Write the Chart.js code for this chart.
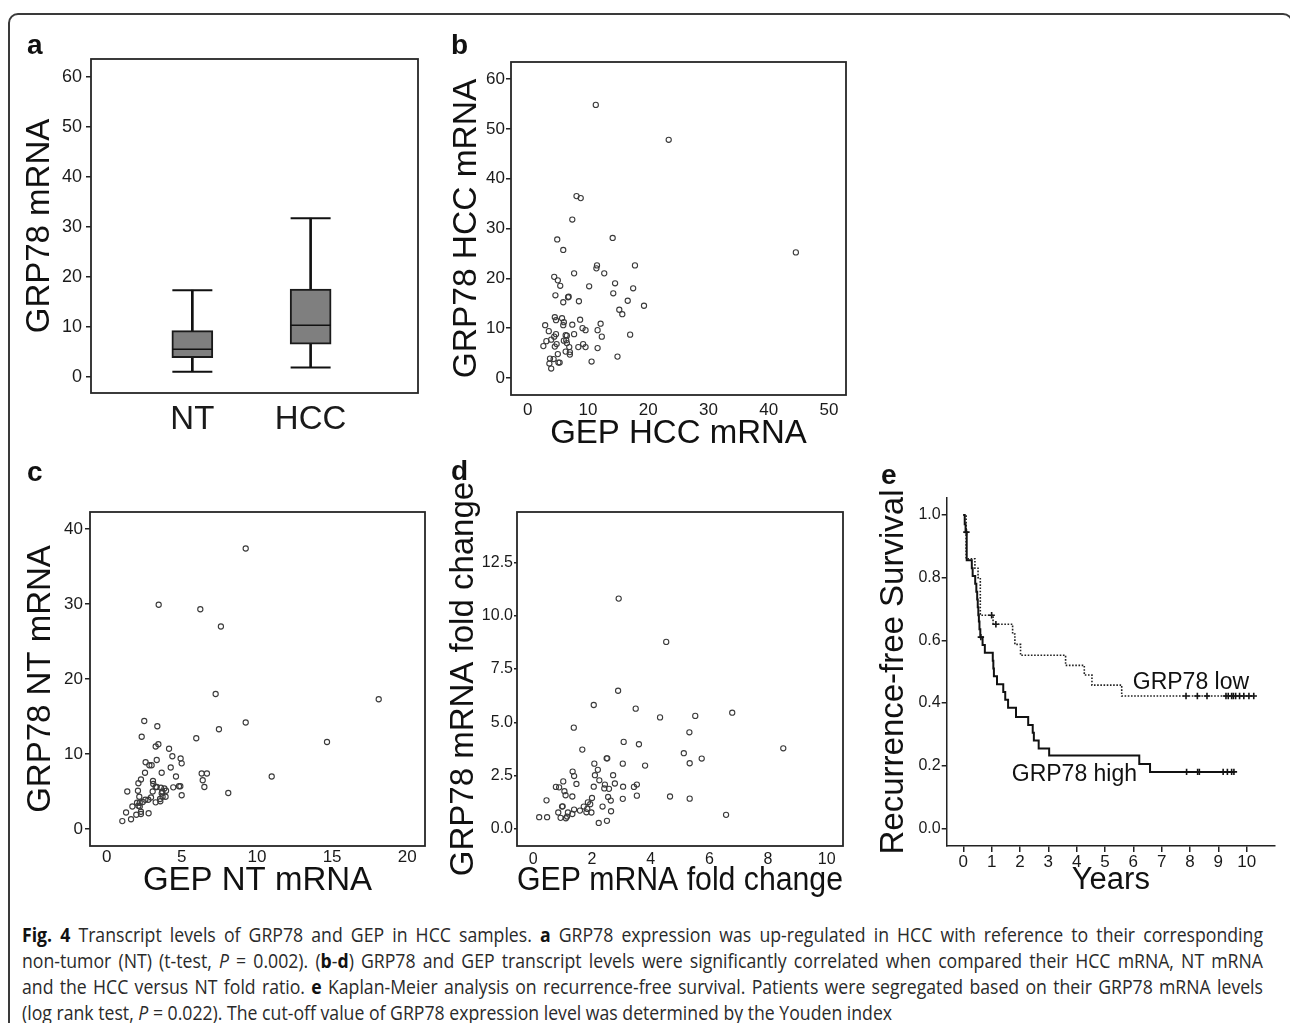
<!DOCTYPE html>
<html><head><meta charset="utf-8">
<script src="https://cdn.jsdelivr.net/npm/chart.js@4.4.1/dist/chart.umd.min.js"></script>
<style>
html,body{margin:0;padding:0;background:#fff;width:1290px;height:1023px;overflow:hidden;position:relative;font-family:"Liberation Sans",Arial,sans-serif;}
canvas{position:absolute;}
.frame{position:absolute;left:8px;top:13px;width:1285px;height:1100px;box-sizing:border-box;border:2px solid #3a3a3a;border-radius:10px;}
.lbl{position:absolute;font:bold 28px "Liberation Sans",Arial,sans-serif;line-height:28px;color:#111;z-index:5;}
#cap{position:absolute;left:22px;top:922px;font-family:"Open Sans",sans-serif;font-size:20px;line-height:26px;color:#2a2a2a;z-index:5;}
#cap .ln{display:block;white-space:nowrap;transform-origin:0 0;width:max-content;}
#cap b{color:#111;}
</style></head><body>
<div class="frame"></div>
<canvas id="ca"></canvas><canvas id="cb"></canvas><canvas id="cc"></canvas><canvas id="cd"></canvas><canvas id="ce"></canvas>
<div class="lbl" style="left:27px;top:31px">a</div>
<div class="lbl" style="left:451px;top:31px">b</div>
<div class="lbl" style="left:27px;top:458px">c</div>
<div class="lbl" style="left:451px;top:457px">d</div>
<div class="lbl" style="left:881px;top:461px">e</div>
<div id="cap">
<div class="ln" data-w="1241"><b>Fig. 4</b> Transcript levels of GRP78 and GEP in HCC samples. <b>a</b> GRP78 expression was up-regulated in HCC with reference to their corresponding</div>
<div class="ln" data-w="1241">non-tumor (NT) (t-test, <i>P</i> = 0.002). (<b>b</b>-<b>d</b>) GRP78 and GEP transcript levels were significantly correlated when compared their HCC mRNA, NT mRNA</div>
<div class="ln" data-w="1241">and the HCC versus NT fold ratio. <b>e</b> Kaplan-Meier analysis on recurrence-free survival. Patients were segregated based on their GRP78 mRNA levels</div>
<div class="ln" data-w="788">(log rank test, <i>P</i> = 0.022). The cut-off value of GRP78 expression level was determined by the Youden index</div>
</div>
<script>
const FF = '"Liberation Sans", Arial, Helvetica, sans-serif';

// ---------- Panel a: box plot ----------
const boxCategories = ['NT', 'HCC'];
const boxWhiskerLow = [1.0, 1.85];
const boxQ1 = [3.8, 6.5];
const boxMedian = [5.5, 10.3];
const boxQ3 = [9.2, 17.5];
const boxWhiskerHigh = [17.3, 31.7];
const aYTicks = [0, 10, 20, 30, 40, 50, 60];

// ---------- Panel b: GEP HCC vs GRP78 HCC ----------
const bX = [11.3,23.4,44.5,8.1,8.8,7.4,14.1,4.9,5.9,11.5,11.4,17.8,12.7,7.7,4.4,5.0,5.4,10.2,14.5,14.2,17.5,4.6,6.7,6.8,5.9,8.5,16.6,19.3,15.2,15.7,4.5,5.7,4.7,6.0,8.7,2.9,5.9,7.4,12.1,9.1,9.6,11.6,3.5,4.7,4.4,6.3,6.5,7.7,12.3,17.0,3.1,3.9,6.0,6.4,4.8,6.5,9.2,2.6,4.5,6.9,8.4,9.6,11.6,6.3,7.0,7.0,5.0,14.9,4.3,3.7,5.1,5.3,10.6,3.6,3.9];
const bY = [54.8,47.8,25.2,36.5,36.1,31.8,28.1,27.8,25.7,22.6,22.0,22.6,21.0,21.0,20.3,19.6,18.5,18.4,19.0,17.0,18.0,16.6,16.2,16.3,15.2,15.4,15.5,14.5,13.7,12.8,12.2,12.0,11.6,11.2,11.7,10.6,10.6,10.7,10.9,10.0,9.6,9.6,9.4,8.8,8.3,8.6,8.5,8.8,8.3,8.7,7.4,7.7,7.5,7.6,6.8,7.0,6.8,6.4,6.3,6.2,6.2,6.2,6.0,5.3,5.2,4.7,4.8,4.3,3.8,3.9,3.1,3.1,3.3,2.9,1.9];
const bXTicks = [0, 10, 20, 30, 40, 50];
const bYTicks = [0, 10, 20, 30, 40, 50, 60];

// ---------- Panel c: GEP NT vs GRP78 NT ----------
const cX = [9.25,3.46,6.23,7.6,7.25,18.1,2.5,9.25,3.37,7.47,2.33,5.96,14.66,3.44,3.26,4.15,4.37,4.92,3.33,4.99,2.59,2.84,2.99,4.26,10.98,2.55,3.66,6.32,6.67,4.61,6.39,2.28,3.08,3.1,2.11,6.5,4.81,4.9,3.26,3.33,3.61,3.84,4.43,8.09,1.37,2.08,3.06,3.7,3.66,3.95,4.99,2.17,2.95,3.92,3.55,3.72,2.77,2.57,3.26,3.57,2.02,2.2,2.4,1.71,2.11,2.2,1.29,2.28,2.28,2.79,1.97,1.62,1.04];
const cY = [37.4,29.9,29.3,27.0,18.0,17.3,14.4,14.2,13.7,13.3,12.3,12.1,11.6,11.3,11.0,10.7,9.7,9.4,9.2,8.75,8.9,8.5,8.5,8.2,7.0,7.5,7.5,7.4,7.4,7.0,6.5,6.6,6.4,6.0,6.1,5.6,5.7,5.7,5.6,5.6,5.5,5.4,5.55,4.8,5.0,5.1,5.0,5.0,4.75,5.1,4.5,4.3,4.2,4.3,4.0,4.3,3.9,3.9,3.55,3.7,3.5,3.5,3.6,3.0,3.1,3.0,2.2,2.3,2.0,2.1,1.9,1.3,1.05];
const cXTicks = [0, 5, 10, 15, 20];
const cYTicks = [0, 10, 20, 30, 40];

// ---------- Panel d: fold change ----------
const dX = [2.91,4.53,2.89,2.06,3.49,4.32,5.52,6.78,1.38,5.32,3.08,3.6,8.52,1.67,5.13,2.5,2.52,5.74,2.08,3.05,5.33,3.81,2.2,1.34,1.39,2.1,2.72,2.25,1.02,1.47,2.78,2.44,3.53,3.43,0.77,0.88,2.06,2.42,2.58,3.06,1.06,1.1,1.33,2.55,3.53,4.66,3.05,5.33,0.45,2.0,2.64,1.86,1.94,0.98,1.0,1.72,2.36,1.84,1.39,1.59,0.85,1.18,1.33,1.81,1.98,2.65,6.57,0.2,0.47,0.93,1.11,1.15,2.23,2.51];
const dY = [10.8,8.77,6.48,5.81,5.64,5.23,5.3,5.45,4.75,4.53,4.08,3.97,3.78,3.72,3.55,3.31,3.31,3.3,3.06,3.06,3.08,2.97,2.77,2.69,2.48,2.52,2.52,2.28,2.23,2.11,2.13,2.08,2.08,1.97,1.97,1.95,1.98,1.9,1.88,1.98,1.77,1.58,1.52,1.5,1.56,1.52,1.41,1.42,1.34,1.45,1.33,1.25,1.16,1.05,1.06,1.05,1.05,0.94,0.91,0.86,0.77,0.77,0.7,0.78,0.77,0.83,0.66,0.55,0.55,0.52,0.5,0.58,0.28,0.38];
const dXTicks = [0, 2, 4, 6, 8, 10];
const dYTicks = [0, 2.5, 5, 7.5, 10, 12.5];

// ---------- Panel e: Kaplan-Meier ----------
const highT = [0,0.05,0.08,0.12,0.3,0.33,0.42,0.46,0.49,0.51,0.53,0.55,0.57,0.6,0.68,0.76,1.04,1.06,1.08,1.19,1.41,1.48,1.58,1.86,2.29,2.45,2.49,2.66,3.03,6.21,6.59,9.59];
const highS = [1.0,0.97,0.945,0.855,0.83,0.805,0.78,0.755,0.73,0.705,0.68,0.66,0.635,0.61,0.585,0.56,0.535,0.51,0.485,0.46,0.435,0.41,0.385,0.355,0.33,0.305,0.28,0.255,0.232,0.205,0.18,0.18];
const lowT = [0,0.1,0.41,0.52,0.6,1.05,1.74,1.82,2.02,3.61,4.27,4.54,5.59,10.27];
const lowS = [1.0,0.86,0.83,0.80,0.68,0.651,0.62,0.587,0.552,0.52,0.489,0.457,0.422,0.422];
const highCensT = [0.11,0.62,7.88,8.27,8.33,9.17,9.32,9.47,9.55];
const highCensS = [0.945,0.61,0.18,0.18,0.18,0.18,0.18,0.18,0.18];
const lowCensT = [1.0,1.15,7.86,8.26,8.6,9.27,9.35,9.47,9.53,9.61,9.75,9.9,10.08,10.25];
const lowCensS = [0.68,0.651,0.422,0.422,0.422,0.422,0.422,0.422,0.422,0.422,0.422,0.422,0.422,0.422];
const eXTicks = [0,1,2,3,4,5,6,7,8,9,10];
const eYTicks = [0, 0.2, 0.4, 0.6, 0.8, 1.0];

// ---------- geometry (page px) ----------
const GEO = {
  a: {rect:[0,30,440,440],   area:[91,59,420,393],      ytc:40},
  b: {rect:[430,30,440,440], area:[511,62,846,395],     ytc:466.7, xtc:433.5},
  c: {rect:[0,455,440,460],  area:[90,512,425,846],     ytc:40.5,  xtc:880.5},
  d: {rect:[430,455,440,460],area:[517,512,843,846],    ytc:464,   xtc:880.5},
  e: {rect:[860,455,430,460],area:[946.7,498,1275,846], ytc:894,   xtc:880.5}
};
function place(id, g){
  const c = document.getElementById(id);
  c.width = g.rect[2]; c.height = g.rect[3];
  c.style.left = g.rect[0] + 'px'; c.style.top = g.rect[1] + 'px';
  return c;
}
function lay(g){
  const [rl,rt,rw,rh] = g.rect, [al,at,ar,ab] = g.area;
  return {
    padding:{left:5, top:at-rt, right:rl+rw-ar, bottom:5},
    ySize: al-rl-5, xSize: rt+rh-5-ab,
    yTP: s => g.ytc - (rl+5) - 0.6*s,
    xTP: s => (rt+rh-5) - 0.6*s - g.xtc
  };
}
function axis(o){
  const vert = o.pos === 'left';
  return {
    type:'linear', position:o.pos, min:o.min, max:o.max, offset:false,
    afterBuildTicks: s => { s.ticks = o.ticks.map(v => ({value:v})); },
    afterFit: s => { if (vert) s.width = o.size; else s.height = o.size; },
    ticks:{font:{family:FF, size:o.fs}, color:'#1a1a1a', padding:o.pad, autoSkip:false, maxRotation:0, minRotation:0,
      callback: v => o.fmt ? o.fmt(v) : String(v)},
    grid:{display:o.tl>0, drawOnChartArea:false, drawTicks:o.tl>0, tickLength:o.tl||0, color:'#222', lineWidth:1.5},
    border:{display:!!o.line, color:'#222', width:1.5},
    title:{display:!!o.title, text:o.title||'', color:'#111', font:{family:FF, size:o.ts||33},
      padding: vert ? {top:o.tp||0, bottom:0} : {top:0, bottom:o.tp||0}}
  };
}
const framePlugin = {
  id:'frame',
  afterDraw(chart, args, opts){
    if (!opts.show) return;
    const a = chart.chartArea, ctx = chart.ctx;
    ctx.save(); ctx.strokeStyle = '#262626'; ctx.lineWidth = 1.8;
    ctx.strokeRect(a.left, a.top, a.right - a.left, a.bottom - a.top);
    ctx.restore();
  }
};
const notesPlugin = {
  id:'notes',
  afterDraw(chart, args, opts){
    const items = opts.items || [];
    const ctx = chart.ctx, a = chart.chartArea;
    ctx.save(); ctx.fillStyle = '#111'; ctx.textBaseline = 'alphabetic';
    for (const it of items){
      ctx.font = (it.size || 23) + 'px ' + FF;
      ctx.textAlign = it.align || 'right';
      let x, y;
      if (it.at){ x = chart.scales.x.getPixelForValue(it.at[0]); y = chart.scales.y.getPixelForValue(it.at[1]); }
      else { x = a.right + it.dx; y = a.top + it.dy; }
      ctx.fillText(it.text, x, y);
    }
    ctx.restore();
  }
};
function baseOpts(L, scales, plugins){
  return {
    responsive:false, animation:false, devicePixelRatio:1, events:[],
    layout:{padding:L.padding},
    scales,
    plugins:Object.assign({legend:{display:false}, tooltip:{enabled:false}}, plugins)
  };
}
const pts = (xs, ys) => xs.map((x, i) => ({x, y: ys[i]}));
const scatterSet = (xs, ys) => ({
  data: pts(xs, ys), showLine:false, pointRadius:2.6, pointBorderWidth:1.1,
  pointBorderColor:'#3a3a3a', pointBackgroundColor:'rgba(0,0,0,0)', pointHoverRadius:2.6
});
const fmt1 = v => v.toFixed(1);

// ---- a ----
const La = lay(GEO.a);
new Chart(place('ca', GEO.a), {
  type:'bar',
  data:{datasets:[
    {type:'scatter', data: boxCategories.map((c,i)=>({x:i+1, y:boxMedian[i]})), pointStyle:'line', pointRadius:20, pointBorderWidth:1.6, pointBorderColor:'#111', order:1},
    {type:'scatter', data: boxCategories.map((c,i)=>({x:i+1, y:boxWhiskerLow[i]})).concat(boxCategories.map((c,i)=>({x:i+1, y:boxWhiskerHigh[i]}))), pointStyle:'line', pointRadius:20, pointBorderWidth:2, pointBorderColor:'#111', order:2},
    {type:'bar', data: boxCategories.map((c,i)=>({x:i+1, y:[boxQ1[i], boxQ3[i]]})), backgroundColor:'#7f7f7f', borderColor:'#1a1a1a', borderWidth:2, borderSkipped:false, barThickness:41, grouped:false, order:3},
    {type:'bar', data: boxCategories.map((c,i)=>({x:i+1, y:[boxWhiskerLow[i], boxWhiskerHigh[i]]})), backgroundColor:'#111', borderWidth:0, barThickness:2, grouped:false, order:4}
  ]},
  options: baseOpts(La, {
    x: axis({pos:'bottom', min:0.143, max:2.908, ticks:[1,2], fmt:v=>boxCategories[v-1], fs:33, pad:7, tl:0, size:La.xSize}),
    y: axis({pos:'left', min:-3.26, max:63.54, ticks:aYTicks, fs:18, pad:4, tl:5, size:La.ySize, title:'GRP78 mRNA', ts:33, tp:La.yTP(33)})
  }, {frame:{show:true}}),
  plugins:[framePlugin, notesPlugin]
});

// ---- b ----
const Lb = lay(GEO.b);
new Chart(place('cb', GEO.b), {
  type:'scatter',
  data:{datasets:[scatterSet(bX, bY)]},
  options: baseOpts(Lb, {
    x: axis({pos:'bottom', min:-2.77, max:52.82, ticks:bXTicks, fs:17, pad:5, tl:0, size:Lb.xSize, title:'GEP HCC mRNA', ts:33, tp:Lb.xTP(33)}),
    y: axis({pos:'left', min:-3.41, max:63.41, ticks:bYTicks, fs:17, pad:1, tl:5, size:Lb.ySize, title:'GRP78 HCC mRNA', ts:33.5, tp:Lb.yTP(33.5)})
  }, {frame:{show:true}, notes:{items:[{text:'spearman\u2019s \u03c1 = 0.382', dx:-11, dy:31}, {text:'p = 0.001', dx:-11, dy:61}]}}),
  plugins:[framePlugin, notesPlugin]
});

// ---- c ----
const Lc = lay(GEO.c);
new Chart(place('cc', GEO.c), {
  type:'scatter',
  data:{datasets:[scatterSet(cX, cY)]},
  options: baseOpts(Lc, {
    x: axis({pos:'bottom', min:-1.11, max:21.18, ticks:cXTicks, fs:17, pad:1, tl:0, size:Lc.xSize, title:'GEP NT mRNA', ts:33, tp:Lc.xTP(33)}),
    y: axis({pos:'left', min:-2.27, max:42.27, ticks:cYTicks, fs:17, pad:2, tl:5, size:Lc.ySize, title:'GRP78 NT mRNA', ts:33, tp:Lc.yTP(33)})
  }, {frame:{show:true}, notes:{items:[{text:'spearman\u2019s \u03c1 = 0.634', dx:-12, dy:27}, {text:'p < 0.001', dx:-12, dy:57}]}}),
  plugins:[framePlugin, notesPlugin]
});

// ---- d ----
const Ld = lay(GEO.d);
new Chart(place('cd', GEO.d), {
  type:'scatter',
  data:{datasets:[scatterSet(dX, dY)]},
  options: baseOpts(Ld, {
    x: axis({pos:'bottom', min:-0.556, max:10.556, ticks:dXTicks, fs:16, pad:3.5, tl:0, size:Ld.xSize, title:'GEP mRNA fold change', ts:34, tp:Ld.xTP(34)}),
    y: axis({pos:'left', min:-0.80, max:14.86, ticks:dYTicks, fmt:fmt1, fs:16, pad:1, tl:3, size:Ld.ySize, title:'GRP78 mRNA fold change', ts:33, tp:Ld.yTP(33)})
  }, {frame:{show:true}, notes:{items:[{text:'spearman\u2019s \u03c1 = 0.554', dx:-9, dy:35}, {text:'p < 0.001', dx:-9, dy:65}]}}),
  plugins:[framePlugin, notesPlugin]
});

// ---- e ----
const Le = lay(GEO.e);
new Chart(place('ce', GEO.e), {
  type:'scatter',
  data:{datasets:[
    {type:'line', data: pts(highT, highS), stepped:true, borderColor:'#111', borderWidth:2, pointRadius:0, fill:false},
    {type:'line', data: pts(lowT, lowS), stepped:true, borderColor:'#222', borderWidth:1.6, borderDash:[1.6,1.6], pointRadius:0, fill:false},
    {type:'scatter', data: pts(highCensT, highCensS), pointStyle:'cross', pointRadius:3.2, pointBorderWidth:1.6, pointBorderColor:'#111', showLine:false},
    {type:'scatter', data: pts(lowCensT, lowCensS), pointStyle:'cross', pointRadius:3.2, pointBorderWidth:1.6, pointBorderColor:'#111', showLine:false}
  ]},
  options: baseOpts(Le, {
    x: axis({pos:'bottom', min:-0.586, max:11.0, ticks:eXTicks, fs:17, pad:0, tl:6, line:true, size:Le.xSize, title:'Years', ts:31, tp:Le.xTP(31)}),
    y: axis({pos:'left', min:-0.0565, max:1.054, ticks:eYTicks, fmt:fmt1, fs:16, pad:1, tl:5, line:true, size:Le.ySize, title:'Recurrence-free Survival', ts:33, tp:Le.yTP(33)})
  }, {notes:{items:[{text:'GRP78 low', at:[5.98,0.445], align:'left'}, {text:'GRP78 high', at:[1.71,0.152], align:'left'}]}}),
  plugins:[framePlugin, notesPlugin]
});

// ---- caption fitting: one common condensation, justified full lines ----
function fitCaption(){
  const lines = [...document.querySelectorAll('#cap .ln')];
  lines.forEach(l => { l.style.transform = 'none'; l.style.wordSpacing = '0px'; });
  const widths = lines.map(l => l.getBoundingClientRect().width);
  const last = lines.length - 1;
  const kLast = (+lines[last].dataset.w) / widths[last];
  let kFull = 0;
  for (let i = 0; i < last; i++) kFull += (+lines[i].dataset.w) / widths[i];
  kFull /= last;
  const k = (kLast + 2 * kFull) / 3;
  lines.forEach((l, i) => {
    if (i !== last){
      const n = (l.textContent.match(/ /g) || []).length;
      const extra = (+l.dataset.w) / k - widths[i];
      l.style.wordSpacing = (extra / n) + 'px';
    }
    l.style.transform = 'scaleX(' + k + ')';
  });
}
fitCaption();
if (document.fonts && document.fonts.ready) document.fonts.ready.then(fitCaption);
</script>
</body></html>
